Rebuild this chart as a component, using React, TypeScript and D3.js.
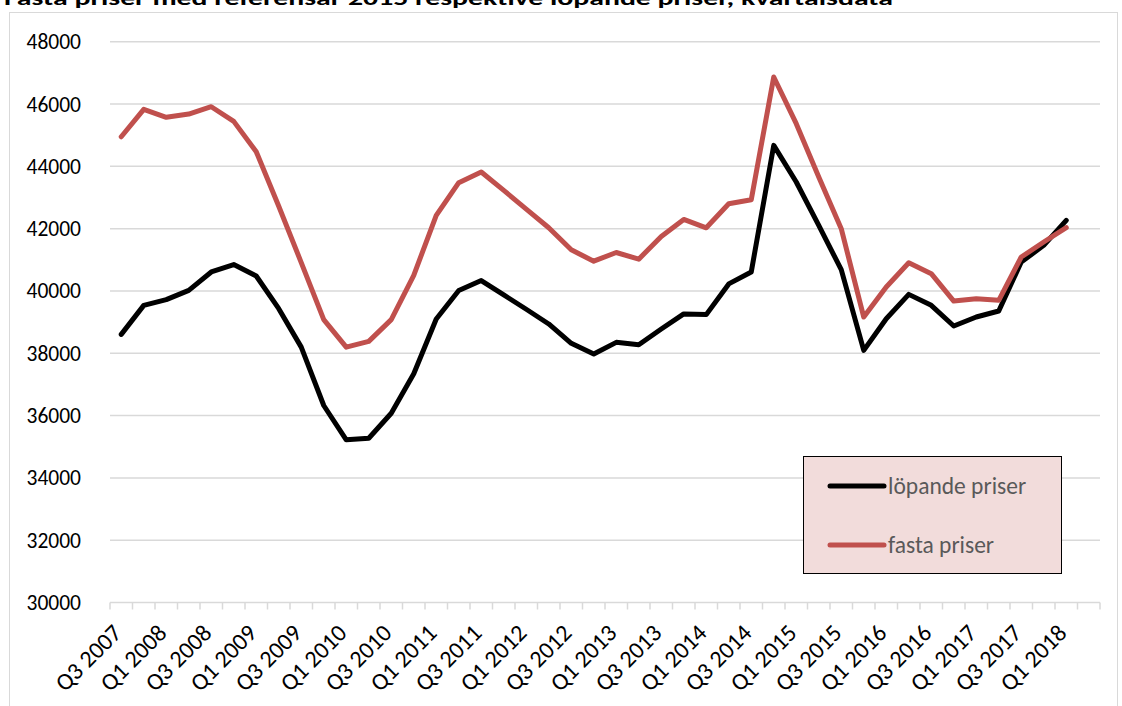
/* eslint-disable */
import React, { useRef, useEffect } from "react";
import * as d3 from "d3";

// quarters from Q3 2007 to Q2 2018 (last one has no data)
const quarters: string[] = [];
for (let i = 0; i < 44; i++) {
  const q = ((2 + i) % 4) + 1;
  const yr = 2007 + Math.floor((2 + i) / 4);
  quarters.push(`Q${q} ${yr}`);
}

const lopandePriser = [
  38605, 39537, 39720, 40020, 40610, 40846, 40480, 39430, 38197, 36323,
  35220, 35272, 36075, 37342, 39101, 40012, 40334, 39873, 39412, 38940,
  38318, 37975, 38350, 38275, 38779, 39262, 39240, 40226, 40607, 44673,
  43496, 42105, 40682, 38093, 39109, 39890, 39537, 38874, 39163, 39355,
  40928, 41463, 42266,
];

const fastaPriser = [
  44949, 45830, 45572, 45678, 45913, 45443, 44467, 42720, 40910, 39078,
  38197, 38380, 39078, 40502, 42424, 43475, 43818, 43228, 42628, 42027,
  41320, 40955, 41234, 41020, 41749, 42295, 42027, 42800, 42928, 46867,
  45369, 43657, 41998, 39163, 40126, 40907, 40554, 39676, 39751, 39698,
  41089, 41570, 42030,
];

const yTicks = [30000, 32000, 34000, 36000, 38000, 40000, 42000, 44000, 46000, 48000];

const series = [
  { name: "löpande priser", values: lopandePriser, color: "#000000" },
  { name: "fasta priser", values: fastaPriser, color: "#c0504d" },
];

const title = "Fasta priser med referensår 2015 respektive löpande priser, kvartalsdata";

const App = () => {
  const svgRef = useRef<SVGSVGElement>(null);

  useEffect(() => {
    if (!svgRef.current) return;
    const svg = d3.select(svgRef.current);
    svg.selectAll("*").remove();

    const width = 1122;
    const height = 706;
    const font = "Carlito, Calibri, 'Liberation Sans', sans-serif";

    const x = d3
      .scaleBand<number>()
      .domain(d3.range(quarters.length))
      .range([110, 1100])
      .paddingInner(0)
      .paddingOuter(0);
    const y = d3.scaleLinear([30000, 48000], [602.5, 41.7]);

    svg.attr("width", width).attr("height", height).style("font-family", font);

    // chart area border
    svg
      .append("rect")
      .attr("x", 9.5)
      .attr("y", 12.5)
      .attr("width", 1108)
      .attr("height", 720)
      .attr("fill", "#fff")
      .attr("stroke", "#d9d9d9")
      .attr("stroke-width", 1);

    // title (cut at the top edge, as in the source image)
    svg
      .append("text")
      .attr("x", 4)
      .attr("y", 5)
      .attr("font-weight", "bold")
      .attr("font-size", 21)
      .attr("textLength", 889)
      .attr("lengthAdjust", "spacingAndGlyphs")
      .attr("fill", "#000")
      .text(title);

    // gridlines
    svg
      .append("g")
      .selectAll("line")
      .data(yTicks.slice(1))
      .join("line")
      .attr("x1", 110)
      .attr("x2", 1100)
      .attr("y1", (d) => y(d))
      .attr("y2", (d) => y(d))
      .attr("stroke", "#d9d9d9")
      .attr("stroke-width", 1.5);

    // y labels
    svg
      .append("g")
      .selectAll("text")
      .data(yTicks)
      .join("text")
      .attr("x", 81)
      .attr("y", (d) => y(d))
      .attr("dy", "0.35em")
      .attr("text-anchor", "end")
      .attr("font-size", 21.5)
      .attr("fill", "#000")
      .text((d) => d);

    // x axis
    const axis = svg.append("g");
    axis
      .append("line")
      .attr("x1", 110)
      .attr("x2", 1100)
      .attr("y1", y(30000))
      .attr("y2", y(30000))
      .attr("stroke", "#d9d9d9")
      .attr("stroke-width", 1.5);
    axis
      .selectAll("line.tick")
      .data(d3.range(quarters.length + 1))
      .join("line")
      .attr("class", "tick")
      .attr("x1", (i) => 110 + i * x.bandwidth())
      .attr("x2", (i) => 110 + i * x.bandwidth())
      .attr("y1", y(30000))
      .attr("y2", y(30000) + 7)
      .attr("stroke", "#d9d9d9")
      .attr("stroke-width", 1.5);
    axis
      .selectAll("text")
      .data(quarters.map((q, i) => ({ q, i })).filter((d) => d.i % 2 === 0))
      .join("text")
      .attr(
        "transform",
        (d) => `translate(${x(d.i)! + x.bandwidth() / 2 - 4},${y(30000) + 26}) rotate(-45)`
      )
      .attr("text-anchor", "end")
      .attr("dy", "0.35em")
      .attr("font-size", 24)
      .attr("fill", "#000")
      .text((d) => d.q);

    // lines
    const line = d3
      .line<number>()
      .x((_, i) => x(i)! + x.bandwidth() / 2)
      .y((d) => y(d));

    svg
      .append("g")
      .selectAll("path")
      .data(series)
      .join("path")
      .attr("fill", "none")
      .attr("stroke", (d) => d.color)
      .attr("stroke-width", 5)
      .attr("stroke-linejoin", "round")
      .attr("stroke-linecap", "round")
      .attr("d", (d) => line(d.values));

    // legend
    const legend = svg.append("g");
    legend
      .append("rect")
      .attr("x", 803.5)
      .attr("y", 456.5)
      .attr("width", 258)
      .attr("height", 117)
      .attr("fill", "#f2dcdb")
      .attr("stroke", "#000")
      .attr("stroke-width", 1);
    const items = legend
      .selectAll("g")
      .data(series)
      .join("g")
      .attr("transform", (_, i) => `translate(0,${486 + i * 59})`);
    items
      .append("line")
      .attr("x1", 830)
      .attr("x2", 884)
      .attr("stroke", (d) => d.color)
      .attr("stroke-width", 5)
      .attr("stroke-linecap", "round");
    items
      .append("text")
      .attr("x", 888)
      .attr("dy", "0.35em")
      .attr("font-size", 23.5)
      .attr("fill", "#595959")
      .text((d) => d.name);
  }, []);

  return (
    <svg
      ref={svgRef}
      style={{ position: "absolute", left: 0, top: 0, display: "block" }}
    ></svg>
  );
};

export default App;
